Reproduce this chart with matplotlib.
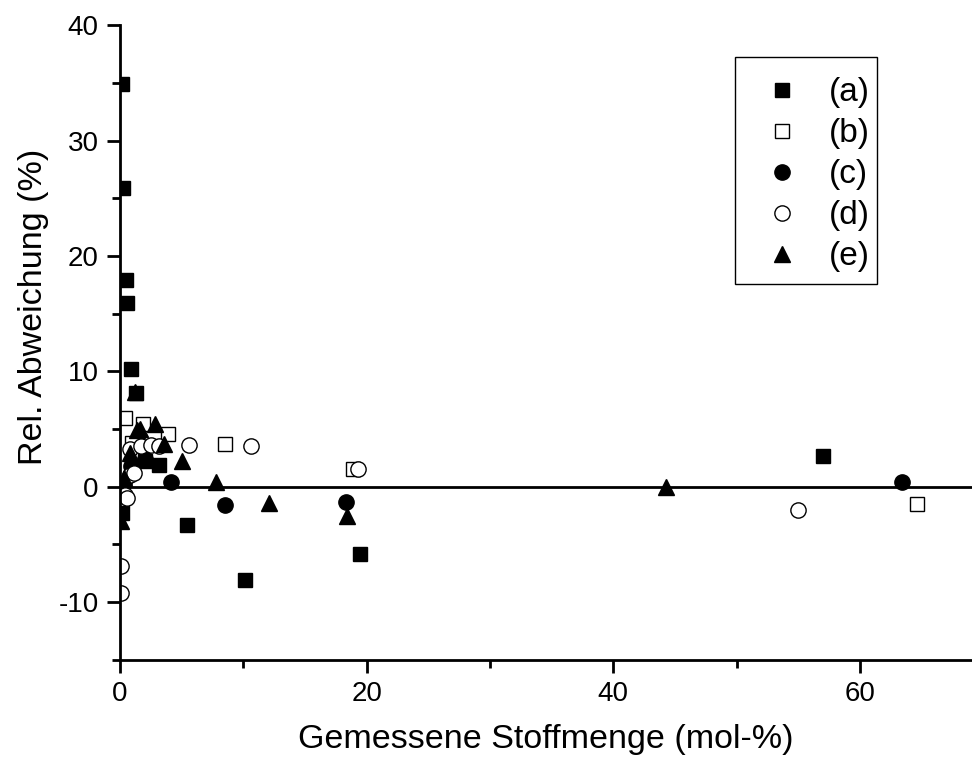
import matplotlib
matplotlib.use("Agg")
import matplotlib.pyplot as plt
from matplotlib.ticker import MultipleLocator
from matplotlib.patches import Rectangle

plt.rcParams['font.family'] = ['Liberation Sans', 'DejaVu Sans']
plt.rcParams['axes.unicode_minus'] = False

# (a) filled squares
xa = [0.15, 0.25, 0.45, 0.6, 0.85, 1.3, 2.0, 3.2, 5.4, 10.1, 19.5, 57.0, 0.15]
ya = [34.9, 25.9, 17.9, 15.9, 10.2, 8.1, 2.2, 1.9, -3.3, -8.1, -5.8, 2.7, -2.3]
# (b) open squares
xb = [0.4, 1.0, 1.9, 3.9, 8.5, 18.9, 64.6]
yb = [6.0, 3.8, 5.4, 4.6, 3.7, 1.5, -1.5]
# (c) filled circles
xc = [0.3, 0.9, 2.0, 4.1, 8.5, 18.3, 63.4]
yc = [0.3, 1.8, 2.4, 0.4, -1.6, -1.3, 0.4]
# (d) open circles
xd = [0.1, 0.1, 0.4, 0.6, 0.8, 1.1, 0.8, 1.7, 2.5, 3.2, 5.6, 10.6, 19.3, 55.0]
yd = [-6.9, -9.2, -0.7, -1.0, 1.0, 1.2, 3.3, 3.5, 3.6, 3.5, 3.6, 3.5, 1.5, -2.0]
# (e) filled triangles
xe = [0.1, 0.3, 0.8, 1.2, 1.4, 1.6, 2.8, 3.6, 5.0, 7.8, 12.1, 18.4, 44.3]
ye = [-3.0, 0.8, 2.9, 8.2, 4.9, 5.0, 5.4, 3.7, 2.2, 0.4, -1.4, -2.5, 0.0]

fig = plt.figure(figsize=(9.72, 7.62), dpi=100)
ax = fig.add_axes([0.1235, 0.134, 0.8765, 0.833])

ax.axhline(0, color='black', lw=2, zorder=1)

ax.plot(xa, ya, 's', color='black', ms=9.5, ls='none', label='(a)', zorder=3)
ax.plot(xb, yb, 's', mfc='white', mec='black', mew=1, ms=9.5, ls='none', label='(b)', zorder=3)
ax.plot(xc, yc, 'o', color='black', ms=11, ls='none', label='(c)', zorder=3)
ax.plot(xd, yd, 'o', mfc='white', mec='black', mew=1, ms=11, ls='none', label='(d)', zorder=3)
ax.plot(xe, ye, '^', color='black', ms=12, ls='none', label='(e)', zorder=3)

ax.set_xlim(0, 69.1)
ax.set_ylim(-15, 40)
ax.xaxis.set_major_locator(MultipleLocator(20))
ax.xaxis.set_minor_locator(MultipleLocator(10))
ax.yaxis.set_major_locator(MultipleLocator(10))
ax.yaxis.set_minor_locator(MultipleLocator(5))

for s in ['top', 'right']:
    ax.spines[s].set_visible(False)
for s in ['left', 'bottom']:
    ax.spines[s].set_linewidth(2)
    ax.spines[s].set_zorder(4)

ax.tick_params(which='major', direction='out', length=9.5, width=2, labelsize=20, pad=6)
ax.tick_params(which='minor', direction='out', length=5.5, width=2)

ax.set_xlabel('Gemessene Stoffmenge (mol-%)', fontsize=24.5, labelpad=12)
ax.set_ylabel('Rel. Abweichung (%)', fontsize=24.5)
ax.yaxis.set_label_coords(-0.083, 0.556)

# legend box drawn separately so its padding matches the original
ax.add_patch(Rectangle((0.7218, 0.5921), 0.1667, 0.3575, transform=ax.transAxes,
                       fill=False, edgecolor='black', lw=1, zorder=5))
leg = ax.legend(loc='upper left', bbox_to_anchor=(0.738, 0.918), fontsize=24,
                frameon=False, borderpad=0, borderaxespad=0,
                handletextpad=0.4, labelspacing=0.3, handlelength=2.0)

fig.savefig('out.png', dpi=100)
